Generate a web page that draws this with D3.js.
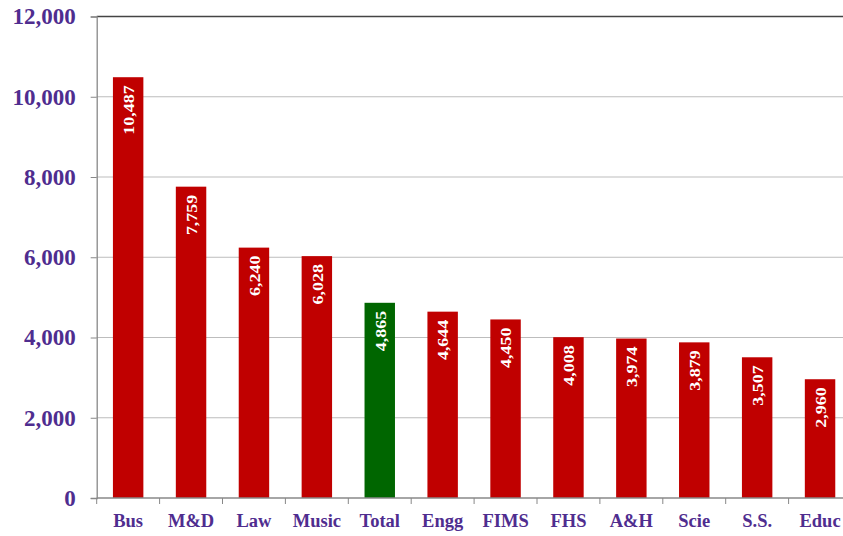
<!DOCTYPE html>
<html>
<head>
<meta charset="utf-8">
<script src="https://cdn.jsdelivr.net/npm/d3@7"></script>
<style>
body{margin:0;background:#fff;}
svg{display:block;}
text{font-family:"Liberation Serif","Times New Roman",serif;font-weight:bold;}
</style>
</head>
<body>
<svg id="canvas" width="843" height="536"></svg>
<script>
let faculties=["Bus","M&D","Law","Music","Total","Engg","FIMS","FHS","A&H","Scie","S.S.","Educ"];
let amounts=[10487,7759,6240,6028,4865,4644,4450,4008,3974,3879,3507,2960];
let yTicks=[0,2000,4000,6000,8000,10000,12000];

let canvas=d3.select("#canvas");
let plotLeft=96.7, plotTop=16.5, plotBottom=498, bandW=62.9;

let x=d3.scaleBand().domain(faculties).range([plotLeft,plotLeft+bandW*faculties.length]).paddingInner(0.516).paddingOuter(0.258);
let y=d3.scaleLinear().domain([0,12000]).range([plotBottom,plotTop]);

// gridlines
canvas.append('g').selectAll('line').data(yTicks.filter(t=>t>0)).enter().append('line')
    .attr('x1',plotLeft).attr('x2',843)
    .attr('y1',t=>y(t)).attr('y2',t=>y(t))
    .attr('stroke',t=>t==12000?'#444':'#bdbdbd')
    .attr('stroke-width',t=>t==12000?1.3:1);

// bars
let bar=canvas.append('g').selectAll('g').data(faculties).enter().append('g');
bar.append('rect')
    .attr('x',d=>x(d))
    .attr('y',(d,i)=>y(amounts[i]))
    .attr('width',x.bandwidth())
    .attr('height',(d,i)=>plotBottom-y(amounts[i]))
    .attr('fill',d=>d=="Total"?'#006600':'#c00000');
bar.append('text')
    .text((d,i)=>d3.format(',')(amounts[i]))
    .attr('transform',(d,i)=>'translate('+(x(d)+x.bandwidth()/2+0.5)+','+(y(amounts[i])+8)+') rotate(-90) scale(1.2,1)')
    .attr('text-anchor','end')
    .attr('dy','0.35em')
    .attr('fill','#fff')
    .attr('font-size','15px');

// axes
let yAxis=d3.axisLeft(y).tickValues(yTicks).tickFormat(d3.format(',')).tickSize(6).tickPadding(15);
let gy=canvas.append('g').attr('transform','translate('+plotLeft+',0)').call(yAxis);
gy.select('.domain').attr('stroke','#888').attr('stroke-width',1.3);
gy.selectAll('.tick line').attr('stroke','#888');
gy.selectAll('.tick text').attr('fill','#4f2d8f').attr('font-size','23px').attr('font-family','"Liberation Serif",serif').attr('font-weight','bold');

let bounds=d3.range(faculties.length+1).map(i=>plotLeft+i*bandW);
let gx=canvas.append('g');
gx.append('line').attr('x1',plotLeft).attr('x2',843).attr('y1',plotBottom).attr('y2',plotBottom).attr('stroke','#888').attr('stroke-width',1.3);
gx.selectAll('.tk').data(bounds).enter().append('line').attr('class','tk')
    .attr('x1',d=>d).attr('x2',d=>d).attr('y1',plotBottom).attr('y2',plotBottom+6).attr('stroke','#888');
gx.selectAll('.lbl').data(faculties).enter().append('text').attr('class','lbl')
    .text(d=>d)
    .attr('x',d=>x(d)+x.bandwidth()/2)
    .attr('y',527)
    .attr('text-anchor','middle')
    .attr('fill','#4f2d8f')
    .attr('font-size','18.5px');
</script>
</body>
</html>
